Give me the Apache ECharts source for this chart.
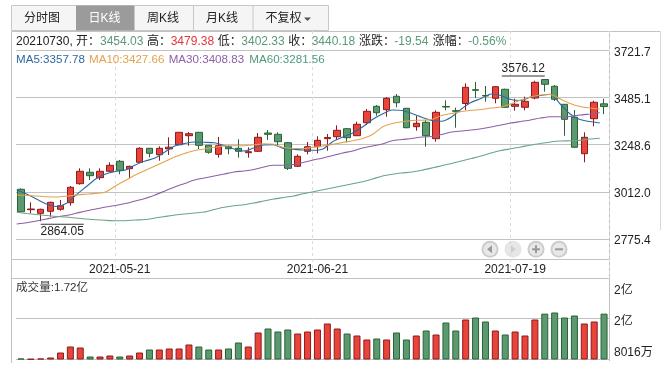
<!DOCTYPE html>
<html><head><meta charset="utf-8">
<style>html,body{margin:0;padding:0;background:#fff}#c{width:667px;height:369px}</style>
<script src="https://cdn.jsdelivr.net/npm/echarts@6/dist/echarts.min.js"></script>
</head><body><div id="c"></div>
<script>
const dates=['2021-05-07','2021-05-10','2021-05-11','2021-05-12','2021-05-13','2021-05-14','2021-05-17','2021-05-18','2021-05-19','2021-05-20',
'2021-05-21','2021-05-24','2021-05-25','2021-05-26','2021-05-27','2021-05-28','2021-05-31','2021-06-01','2021-06-02','2021-06-03',
'2021-06-04','2021-06-07','2021-06-08','2021-06-09','2021-06-10','2021-06-11','2021-06-15','2021-06-16','2021-06-17','2021-06-18',
'2021-06-21','2021-06-22','2021-06-23','2021-06-24','2021-06-25','2021-06-28','2021-06-29','2021-06-30','2021-07-01','2021-07-02',
'2021-07-05','2021-07-06','2021-07-07','2021-07-08','2021-07-09','2021-07-12','2021-07-13','2021-07-14','2021-07-15','2021-07-16',
'2021-07-19','2021-07-20','2021-07-21','2021-07-22','2021-07-23','2021-07-26','2021-07-27','2021-07-28','2021-07-29','2021-07-30'];
const opens=[3024.9,2922.5,2904.4,2914.5,2924.5,2957.6,3053,3110.3,3083.1,3115.3,
3165.5,3128.3,3160.5,3230.7,3198.6,3227.7,3248.8,3294,3311,3245.8,
3200.6,3238.8,3230.7,3208.6,3215.7,3307.5,3301,3258.8,3140.4,3215.7,
3238.8,3279,3289,3329.1,3294,3359.2,3441.6,3424.5,3491.8,3431.5,
3339.2,3361.2,3279,3440.6,3419.5,3455.6,3524.9,3495.8,3481.7,3527,
3441.6,3436.6,3483.2,3576,3542,3451.6,3386.4,3203.6,3379.3,3454.03];
const closes=[2912.5,2926,2924.5,2959.6,2942.6,3035,3115.3,3093.2,3115.3,3145.4,
3120.3,3140.4,3230.7,3205.6,3230.7,3236.3,3311,3304,3245.8,3210.6,
3243.8,3228.7,3215.7,3213.6,3286,3301,3263.9,3130.3,3190.6,3238.8,
3270.9,3285,3321,3283.9,3351.2,3416.5,3409.4,3481.7,3459.6,3334.1,
3356.2,3294,3411.4,3438,3416.5,3537,3521.9,3493.3,3540,3436.6,
3451.6,3466.7,3562,3552,3476.7,3376.3,3235.8,3286,3461.7,3440.18];
const lows=[2912.5,2904.4,2864.05,2887.4,2917.5,2942.6,3048,3071.6,3071.6,3111.8,
3100.2,3080.1,3157,3185.6,3168.5,3197.1,3247.3,3243.8,3227.2,3203.6,
3183.6,3200.6,3183.6,3183.6,3212.2,3272.4,3247.3,3121.8,3136.9,3200.6,
3205.6,3218.7,3272.4,3260.8,3292.5,3347.7,3394.4,3389.4,3436.6,3331.1,
3319.1,3238.8,3263.9,3421.5,3334.1,3423,3483.2,3464.6,3456.6,3433,
3419.5,3421.5,3476.7,3514.9,3468.2,3294,3234,3160.5,3341.2,3402.33];
const highs=[3029.9,2959.6,2927.5,2962.7,2971.2,3041.5,3130.3,3130.3,3130.3,3160.5,
3172,3142.9,3235.8,3232.2,3240.8,3286,3312.6,3312.6,3312.6,3247.3,
3287.5,3245.8,3276,3235.8,3307.5,3322.6,3311,3262.4,3200.6,3262.4,
3291,3302.5,3346.2,3332.6,3364.3,3428,3448.1,3488.3,3503.3,3433,
3392.9,3372.8,3421.5,3471.7,3434.5,3557,3563.6,3543.5,3543.5,3530,
3479.7,3489.8,3570,3576.12,3548.5,3453.1,3423,3311,3469.7,3479.38];
const ma5=[3021.4,3001.3,2976.2,2951.1,2938.6,2953.6,2996.3,3036.5,3076.6,3101.7,
3114.3,3121.8,3146.9,3167,3182,3212.2,3242.3,3254.8,3262.4,3260.9,
3258.3,3244.8,3227.2,3217.2,3232.2,3247.3,3248.3,3229.7,3225.7,3222.2,
3220.7,3227.2,3264.9,3287.5,3307.5,3337.7,3375.3,3403,3423,3420.5,
3405.4,3386.4,3370.3,3366.3,3387.9,3428,3461.7,3480.7,3503.3,3495.8,
3475.7,3470.7,3488.3,3495.8,3501.8,3453.1,3403,3375.3,3365.3,3357.78];
const ma10=[2996.3,2993.8,2991.3,2987.8,2986.3,2990.3,2996.3,3000.3,3004.3,3011.4,
3041.5,3069.1,3096.7,3119.3,3141.9,3164.5,3187.1,3204.6,3219.7,3227.2,
3235.8,3242.3,3243.3,3243.8,3248.3,3253.3,3250.8,3234.8,3229.7,3229.7,
3235.8,3242.3,3250.8,3259.9,3268.4,3279.9,3300,3337.7,3355.2,3364.2,
3370.3,3371.8,3375.3,3395.4,3405.4,3415.5,3421.5,3425.5,3433,3438,
3453.1,3473.2,3488.3,3498.3,3500.8,3478.2,3455.6,3440.6,3433,3427.66];
const ma30=[2850.7,2857.2,2865.8,2875.8,2885.9,2893.4,2904.4,2916,2926,2936,
2943.6,2953.6,2966.2,2978.8,2996.3,3016.4,3036.5,3054,3071.6,3081.6,
3091.7,3101.7,3111.8,3116.8,3124.3,3136.9,3145.4,3145.4,3149.4,3159.5,
3172,3182,3194.6,3207.1,3217.2,3232.2,3242.3,3252.3,3269,3275,
3280,3287.5,3290,3300,3312.6,3317.6,3322.6,3329.1,3337.7,3347.7,
3357.7,3365.3,3372.8,3382.8,3389.4,3389.4,3390.4,3397.9,3403,3408.83];
const ma60=[2909.4,2903.4,2898.4,2893.4,2888.4,2885.9,2880.8,2875.8,2872.3,2869.3,
2867.3,2867.3,2870.8,2873.3,2880.8,2888.4,2895.9,2900.9,2906,2911,
2923.5,2934.6,2942.6,2947.6,2956.1,2966.2,2976.2,2983.8,2991.3,3002.8,
3012.9,3022.9,3033,3043,3053,3063.1,3076.6,3091.7,3100.7,3106.7,
3111.8,3120.8,3131.8,3143.4,3154.4,3167,3179.5,3192.1,3207.1,3219.7,
3228.7,3237.3,3247.3,3254.8,3262.4,3267.4,3268.4,3271,3277.4,3281.56];
const volumes=[375,188,375,750,2625,4875,4500,1125,1125,1500,
1125,1500,2625,3750,3750,4125,4125,5625,4875,3750,
3750,4125,6375,4875,10125,11625,10500,11250,9750,10500,
11250,13500,11625,9750,9000,7500,7875,7500,10125,7500,
9000,10875,9375,13875,10875,15000,15750,14250,10875,9375,
10500,9000,15000,17200,17625,15750,16500,13500,14250,17200];
const priceTicks=[2775.4,3012.0,3248.6,3485.1,3721.7];
const priceLabelAt=[2765.4,3002.0,3238.6,3475.1,3711.7];
const priceLabels=['2775.4','3012.0','3248.6','3485.1','3721.7'];
const volumeGrid=[0,15300,30375];
const volumeLabelAt=[2437,14050,25690];
const volumeLabels=['8016万','2亿','2亿'];
const shownDates=['2021-05-21','2021-06-21','2021-07-19'];
const tabs=['分时图','日K线','周K线','月K线','不复权'];
const infoLine=[['20210730,','#222'],['开：','#222'],['3454.03','#5a9a78'],['高：','#222'],['3479.38','#e8333a'],['低：','#222'],['3402.33','#5a9a78'],['收：','#222'],['3440.18','#5a9a78'],['涨跌：','#222'],['-19.54','#5a9a78'],['涨幅：','#222'],['-0.56%','#5a9a78']];
const maLine=[['MA5:3357.78','#2c6aa0'],['MA10:3427.66','#e3a24f'],['MA30:3408.83','#8f5ea6'],['MA60:3281.56','#4f9a7a']];
const volumeTitle='成交量:1.72亿';

const FONT='"Liberation Sans","Noto Sans CJK SC",sans-serif';
const RED='#e8443a',RED_D='#8c1a1f',GREEN='#5b9a70',GREEN_D='#2a6236';
const GRID='#c2c2c2';
const infoX=[16,76,100,147,170.7,217.7,241.3,288.3,311.7,359,394.3,432.7,468.3];
const maX=[16,89,168.7,249.3];
const tabX=[11.5,76,134,193,252.5,328.5];

const gfx=[];
const line=(x1,y1,x2,y2,c)=>gfx.push({type:'line',silent:true,z:0,shape:{x1,y1,x2,y2},style:{stroke:c||GRID,lineWidth:1}});
const text=(x,y,t,c,s,al)=>gfx.push({type:'text',silent:true,z:5,x,y,style:{text:t,fill:c||'#222',font:(s||12)+'px '+FONT,textAlign:al||'left',textVerticalAlign:'middle'}});
// tabs
gfx.push({type:'rect',silent:true,shape:{x:11.5,y:5.5,width:317,height:25},style:{fill:'#f5f5f5',stroke:'#c8c8c8',lineWidth:1}});
gfx.push({type:'rect',silent:true,z:1,shape:{x:76,y:5.5,width:58,height:25},style:{fill:'#9b9b9b'}});
tabX.slice(1,-1).forEach(x=>line(x+.5,5.5,x+.5,30.5,'#c8c8c8'));
const tabC=[42,104.5,163,222,283.5];
tabs.forEach((t,i)=>text(tabC[i],19,t,i===1?'#fff':'#222',12,'center'));
gfx.push({type:'polygon',silent:true,z:5,shape:{points:[[304,17.5],[311,17.5],[307.5,21]]},style:{fill:'#555'}});
// frame
line(11.5,31.5,660.5,31.5);line(11.5,31.5,11.5,363);line(609.5,31.5,609.5,361);line(660.5,31.5,660.5,230,'#d8d8d8');
line(11.5,259.5,609.5,259.5);line(11.5,278.5,609.5,278.5);
// header text
infoLine.forEach((p,i)=>text(infoX[i],41.5,p[0],p[1],12));
maLine.forEach((p,i)=>text(maX[i],59.5,p[0],p[1],11.6));
text(16,288,volumeTitle,'#333',11.6);
// zoom buttons
[[490,'l',1],[513,'r',.5],[536,'p',1],[559,'m',1]].forEach(([x,k,o])=>{
 const y=249.3;
 gfx.push({type:'circle',silent:true,z:3,style:{fill:'#cdcdcd',opacity:o},shape:{cx:x,cy:y,r:8.5}});
 gfx.push({type:'circle',silent:true,z:3,style:{fill:'#e8e8e8',opacity:o},shape:{cx:x,cy:y,r:6.5}});
 const gl='#999';
 if(k==='l')gfx.push({type:'polygon',silent:true,z:4,shape:{points:[[x-3,y],[x+2,y-4],[x+2,y+4]]},style:{fill:gl}});
 if(k==='r')gfx.push({type:'polygon',silent:true,z:4,shape:{points:[[x+3,y],[x-2,y-4],[x-2,y+4]]},style:{fill:'#cfcfcf'}});
 if(k==='p'||k==='m')gfx.push({type:'rect',silent:true,z:4,shape:{x:x-4,y:y-1,width:8,height:2},style:{fill:gl}});
 if(k==='p')gfx.push({type:'rect',silent:true,z:4,shape:{x:x-1,y:y-4,width:2,height:8},style:{fill:gl}});
});

const candleData=dates.map((d,i)=>[opens[i],closes[i],lows[i],highs[i]]);
const volData=volumes.map((v,i)=>{const up=closes[i]>opens[i];return{value:v,itemStyle:{color:up?RED:GREEN,borderColor:up?RED_D:GREEN_D,borderWidth:1}}});
const tickIdx=i=>shownDates.includes(dates[i]);
const maSeries=(name,data,color)=>({name,type:'line',data,xAxisIndex:1,yAxisIndex:1,smooth:.25,showSymbol:false,symbol:'none',silent:true,z:4,lineStyle:{color,width:1.1}});
const P_MIN=2577.1,P_MAX=3819.6;

const chart=echarts.init(document.getElementById('c'),null,{renderer:'canvas'});
chart.setOption({
 animation:false,backgroundColor:'#fff',
 graphic:{elements:gfx},
 grid:[
  {left:16,width:593,top:31,height:247.5},
  {left:11.7,width:593,top:31,height:247.5},
  {left:16,width:593,top:278.5,height:81}
 ],
 xAxis:[
  {type:'category',gridIndex:0,data:dates,boundaryGap:true,axisLine:{show:false},
   axisTick:{show:false,alignWithLabel:true,interval:(i)=>tickIdx(i)},
   axisLabel:{inside:true,margin:3,interval:(i)=>tickIdx(i),color:'#222',fontFamily:FONT,fontSize:12,hideOverlap:false},
   splitLine:{show:true,interval:(i)=>tickIdx(i),lineStyle:{color:'#dcdcdc',type:[3,3],width:1}}},
  {type:'category',gridIndex:1,data:dates,show:false},
  {type:'category',gridIndex:2,data:dates,axisLine:{show:false},axisTick:{show:false},axisLabel:{show:false},splitLine:{show:false}}
 ],
 yAxis:[
  {type:'value',gridIndex:0,position:'right',min:P_MIN,max:P_MAX,scale:true,axisLine:{show:false},
   axisTick:{show:false,customValues:priceTicks},
   axisLabel:{customValues:priceLabelAt,margin:5,color:'#222',fontFamily:FONT,fontSize:12,formatter:v=>priceLabels[priceLabelAt.indexOf(v)]},
   splitLine:{show:true,lineStyle:{color:GRID,width:1}}},
  {type:'value',gridIndex:1,min:P_MIN,max:P_MAX,show:false,splitLine:{show:false}},
  {type:'value',gridIndex:2,position:'right',min:0,max:volumeGrid[2],axisLine:{show:false},
   axisTick:{show:false,customValues:volumeGrid},
   axisLabel:{customValues:volumeLabelAt,margin:5,color:'#222',fontFamily:FONT,fontSize:12,formatter:v=>volumeLabels[volumeLabelAt.indexOf(v)]},
   splitLine:{show:true,lineStyle:{color:GRID,width:1}}}
 ],
 series:[
  {name:'K',type:'candlestick',xAxisIndex:0,yAxisIndex:0,data:candleData,barWidth:7,z:3,silent:true,
   itemStyle:{color:RED,color0:GREEN,borderColor:RED_D,borderColor0:GREEN_D,borderWidth:1},
   markPoint:{symbol:'circle',symbolSize:0,silent:true,animation:false,data:[
    {coord:[dates[2],lows[2]],label:{show:true,position:'right',distance:0,offset:[0,10],formatter:'{r|}\n{t|'+lows[2].toFixed(2)+'}'}},
    {coord:[dates[53],highs[53]],label:{show:true,position:'left',distance:0,offset:[0,-10.5],formatter:'{t|'+highs[53].toFixed(2)+'}\n{r|}'}}
   ],label:{rich:{
     r:{width:43,height:1,backgroundColor:'#333',lineHeight:1},
     t:{width:43,align:'center',fontFamily:FONT,fontSize:12,color:'#222',lineHeight:14}}}}},
  maSeries('MA5',ma5,'#2c6aa0'),
  maSeries('MA10',ma10,'#e3a24f'),
  maSeries('MA30',ma30,'#8f5ea6'),
  maSeries('MA60',ma60,'#6aa484'),
  {name:'VOL',type:'bar',xAxisIndex:2,yAxisIndex:2,data:volData,barWidth:7,silent:true}
 ]
});
</script></body></html>
